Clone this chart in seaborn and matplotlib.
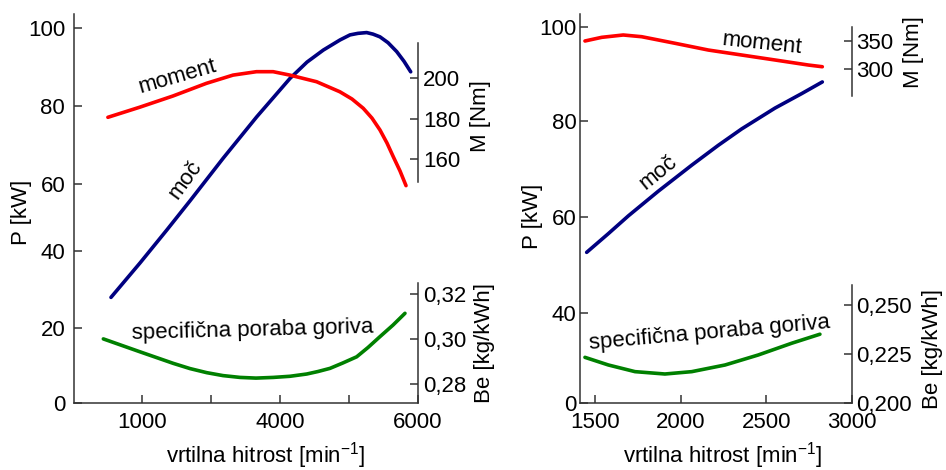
import numpy as np
import pandas as pd
import matplotlib
matplotlib.use("Agg")
import matplotlib.pyplot as plt
import seaborn as sns

# ---------------- data ----------------
# left engine
left_rpm_torque = [499, 959, 1665, 2393, 2973, 3484, 3846, 4140, 4528, 4866, 5042, 5205,
                   5332, 5448, 5550, 5641, 5739, 5826]
left_torque = [180.6, 185.6, 191.2, 197.5, 201.6, 203.3, 203.3, 201.6, 198.3, 193.3, 189.7, 185.1,
               180.2, 174.3, 167.8, 161.0, 153.9, 146.6]

left_rpm_power = [544, 965, 1529, 2036, 2761, 3488, 4142, 4389, 4626, 4868, 5013, 5129, 5255,
                  5347, 5448, 5565, 5691, 5797, 5894]
left_power = [28.0, 36.9, 46.2, 54.9, 66.6, 77.2, 87.1, 91.3, 94.4, 97.0, 98.3, 98.7, 98.9,
              98.5, 97.8, 96.3, 94.0, 91.5, 88.8]

left_rpm_bsfc = [433, 965, 1672, 2036, 2400, 2755, 3125, 3473, 3850, 4142, 4385, 4548, 4723,
                 4911, 5110, 5274, 5448, 5637, 5811]
left_bsfc = [0.3000, 0.2943, 0.2892, 0.2869, 0.2851, 0.2838, 0.2830, 0.2827, 0.2830, 0.2835,
             0.2845, 0.2856, 0.2870, 0.2894, 0.2921, 0.2962, 0.3010, 0.3061, 0.3113]

# right engine
right_rpm_torque = [1439, 1537, 1663, 1771, 1966, 2161, 2356, 2551, 2746, 2828]
right_torque = [349.5, 355.9, 360.0, 357.0, 345.5, 333.7, 325.0, 316.3, 307.5, 304.5]

right_rpm_power = [1449, 1576, 1693, 1868, 2064, 2219, 2356, 2551, 2707, 2828]
right_power = [52.7, 56.6, 60.3, 65.4, 70.8, 74.9, 78.3, 82.7, 85.8, 88.3]

right_rpm_bsfc = [1439, 1576, 1732, 1907, 2064, 2259, 2453, 2649, 2814]
right_bsfc = [0.2233, 0.2194, 0.2160, 0.2148, 0.2160, 0.2194, 0.2245, 0.2305, 0.2351]

# axis ticks and labels
left_x_ticks = [1000, 2500, 4000, 5000, 6000]
left_x_labels = ["1000", "", "4000", "", "6000"]
right_x_ticks = [1500, 2000, 2500, 3000]
left_p_ticks = [0, 20, 40, 60, 80, 100]
right_p_ticks = [0, 40, 60, 80, 100]
left_m_ticks = [160, 180, 200]
right_m_ticks = [300, 350]
left_be_ticks = [0.28, 0.30, 0.32]
right_be_ticks = [0.200, 0.225, 0.250]

# ---------------- style ----------------
sns.set_theme(style="white")
plt.rcParams["font.family"] = ["Liberation Sans", "DejaVu Sans"]
plt.rcParams["mathtext.fontset"] = "custom"
plt.rcParams["mathtext.rm"] = "Liberation Sans"
plt.rcParams["mathtext.default"] = "regular"
for key in ("text.color", "axes.labelcolor", "xtick.color", "ytick.color"):
    plt.rcParams[key] = "black"

FS = 16
SPINE = "#333333"
RED, BLUE, GREEN = "#ff0000", "#000080", "#008000"
LW = 2.6


def piecewise_scale(values, positions):
    """Scale functions for an axis whose printed values are unevenly spaced."""
    v = np.asarray(values, float)
    p = np.asarray(positions, float)

    def make(a, b):
        lo = (b[1] - b[0]) / (a[1] - a[0])
        hi = (b[-1] - b[-2]) / (a[-1] - a[-2])

        def f(x):
            x = np.asarray(x, float)
            y = np.interp(x, a, b)
            y = np.where(x < a[0], b[0] + (x - a[0]) * lo, y)
            y = np.where(x > a[-1], b[-1] + (x - a[-1]) * hi, y)
            return y
        return f

    return make(v, p), make(p, v)


def comma(vals, fmt):
    return [fmt.format(v).replace(".", ",") for v in vals]


fig = plt.figure(figsize=(9.46, 4.70), dpi=100)
ax_l = fig.add_axes([0.07770, 0.14191, 0.36416, 0.82830])
ax_r = fig.add_axes([0.61311, 0.14191, 0.28721, 0.82830])


def style_main(ax, ypad):
    ax.patch.set_visible(False)
    for s in ("top", "right"):
        ax.spines[s].set_visible(False)
    for s in ("left", "bottom"):
        ax.spines[s].set_color(SPINE)
        ax.spines[s].set_linewidth(1.1)
    ax.tick_params(axis="x", direction="in", length=6, width=1.1, color=SPINE,
                   labelsize=FS, pad=6.5, bottom=True, labelcolor="black")
    ax.tick_params(axis="y", direction="in", length=6, width=1.1, color=SPINE,
                   labelsize=FS, pad=ypad, left=True, labelcolor="black")
    ax.grid(False)


def style_twin(ax, lo, hi):
    for s in ("top", "left", "bottom"):
        ax.spines[s].set_visible(False)
    ax.spines["right"].set_color(SPINE)
    ax.spines["right"].set_linewidth(1.1)
    ax.spines["right"].set_bounds(lo, hi)
    ax.tick_params(axis="y", direction="in", length=6, width=1.1, color=SPINE,
                   labelsize=FS, pad=3.5, right=True, labelcolor="black")
    ax.grid(False)


def set_label(axis, text, x, y):
    axis.set_label_text(text, fontsize=FS, color="black")
    axis.set_label_coords(x, y)
    axis.label.set(va="center", ha="center")


# ---------------- left panel ----------------
fx, ix = piecewise_scale([0, 1000, 4000, 6000], [0, 68.9, 206.7, 344.5])
ax_l.set_xscale("function", functions=(fx, ix))
fy, iy = piecewise_scale([0, 20, 40, 60, 80, 100], [0, 75, 152.3, 219.6, 297.3, 375])
ax_l.set_yscale("function", functions=(fy, iy))

ax_lm = ax_l.twinx()
ax_lb = ax_l.twinx()

sns.lineplot(x=left_rpm_power, y=left_power, ax=ax_l, color=BLUE, lw=LW)
sns.lineplot(x=left_rpm_torque, y=left_torque, ax=ax_lm, color=RED, lw=LW)
sns.lineplot(x=left_rpm_bsfc, y=left_bsfc, ax=ax_lb, color=GREEN, lw=LW)

ax_l.set_xlim(0, 6000)
ax_l.set_ylim(0, 103.68)
ax_lm.set_ylim(38.3, 232.0)
ax_lb.set_ylim(0.27157, 0.44344)

style_main(ax_l, 6)
style_twin(ax_lm, 148.4, 217.7)
style_twin(ax_lb, 0.27157, 0.3245)

ax_l.set_xticks(left_x_ticks, labels=left_x_labels)
ax_l.set_yticks(left_p_ticks, labels=[str(t) for t in left_p_ticks])
ax_lm.set_yticks(left_m_ticks, labels=[str(t) for t in left_m_ticks])
ax_lb.set_yticks(left_be_ticks, labels=comma(left_be_ticks, "{:.2f}"))

set_label(ax_l.xaxis, r"vrtilna hitrost [min$^{-1}$]", 0.558, -0.134)
set_label(ax_l.yaxis, "P [kW]", -0.152, 0.490)
set_label(ax_lm.yaxis, "M [Nm]", 1.180, 0.738)
set_label(ax_lb.yaxis, "Be [kg/kWh]", 1.192, 0.155)
ax_lm.yaxis.label.set_rotation(90)
ax_lb.yaxis.label.set_rotation(90)

ax_l.text(0.302, 0.838, "moment", transform=ax_l.transAxes, fontsize=FS,
          rotation=16, rotation_mode="anchor", ha="center", va="center")
ax_l.text(0.326, 0.573, "moč", transform=ax_l.transAxes, fontsize=FS,
          rotation=54, rotation_mode="anchor", ha="center", va="center")
ax_l.text(0.520, 0.188, "specifična poraba goriva", transform=ax_l.transAxes,
          fontsize=FS, rotation=1.5, rotation_mode="anchor", ha="center", va="center")

# ---------------- right panel ----------------
gy, jy = piecewise_scale([0, 40, 60, 80, 100], [0, 90, 186, 282.6, 376])
ax_r.set_yscale("function", functions=(gy, jy))

ax_rm = ax_r.twinx()
ax_rb = ax_r.twinx()

sns.lineplot(x=right_rpm_power, y=right_power, ax=ax_r, color=BLUE, lw=LW)
sns.lineplot(x=right_rpm_torque, y=right_torque, ax=ax_rm, color=RED, lw=LW)
sns.lineplot(x=right_rpm_bsfc, y=right_bsfc, ax=ax_rb, color=GREEN, lw=LW)

ax_r.set_xlim(1410, 3000)
ax_r.set_ylim(0, 102.85)
ax_rm.set_ylim(-283.9, 396.7)
ax_rb.set_ylim(0.19985, 0.39847)

style_main(ax_r, 2.5)
style_twin(ax_rm, 253.3, 373.4)
style_twin(ax_rb, 0.19985, 0.2602)

ax_r.set_xticks(right_x_ticks, labels=[str(t) for t in right_x_ticks])
ax_r.set_yticks(right_p_ticks, labels=[str(t) for t in right_p_ticks])
ax_rm.set_yticks(right_m_ticks, labels=[str(t) for t in right_m_ticks])
ax_rb.set_yticks(right_be_ticks, labels=comma(right_be_ticks, "{:.3f}"))

set_label(ax_r.xaxis, r"vrtilna hitrost [min$^{-1}$]", 0.526, -0.134)
set_label(ax_r.yaxis, "P [kW]", -0.173, 0.481)
set_label(ax_rm.yaxis, "M [Nm]", 1.229, 0.903)
set_label(ax_rb.yaxis, "Be [kg/kWh]", 1.299, 0.139)
ax_rm.yaxis.label.set_rotation(90)
ax_rb.yaxis.label.set_rotation(90)

ax_r.text(0.670, 0.923, "moment", transform=ax_r.transAxes, fontsize=FS,
          rotation=-6, rotation_mode="anchor", ha="center", va="center")
ax_r.text(0.287, 0.594, "moč", transform=ax_r.transAxes, fontsize=FS,
          rotation=39, rotation_mode="anchor", ha="center", va="center")
ax_r.text(0.478, 0.181, "specifična poraba goriva", transform=ax_r.transAxes,
          fontsize=FS, rotation=5, rotation_mode="anchor", ha="center", va="center")

fig.savefig("out.png", dpi=100, facecolor="white")
